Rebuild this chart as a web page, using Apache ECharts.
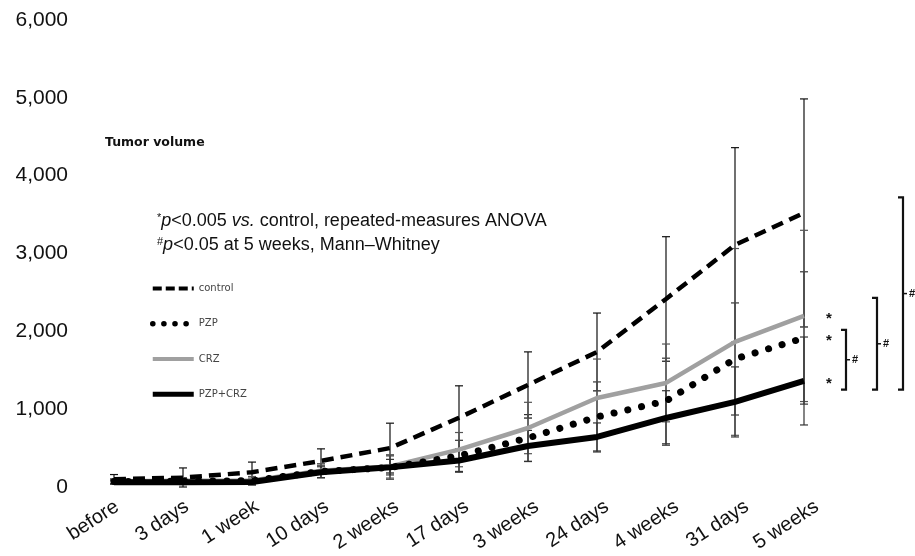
<!DOCTYPE html>
<html><head><meta charset="utf-8">
<script src="https://cdn.jsdelivr.net/npm/echarts@6/dist/echarts.min.js"></script>
<style>html,body{margin:0;padding:0;background:#fff}#c{width:915px;height:556px}</style>
</head><body><div id="c"></div>
<script>
// ---- data ----
const categories = ['before','3 days','1 week','10 days','2 weeks','17 days','3 weeks','24 days','4 weeks','31 days','5 weeks'];
const yTickValues = [0, 1000, 2000, 3000, 4000, 5000, 6000];
const yTickLabels = ['0', '1,000', '2,000', '3,000', '4,000', '5,000', '6,000'];
const seriesNames = ['control', 'PZP', 'CRZ', 'PZP+CRZ'];
const controlMean = [100, 120, 190, 335, 500, 890, 1311, 1735, 2416, 3110, 3521];
const controlSD   = [60, 125, 130, 155, 320, 410, 425, 500, 800, 1250, 1465];
const pzpMean     = [70, 75, 80, 200, 250, 400, 630, 900, 1105, 1645, 1915];
const pzpSD       = [30, 40, 50, 80, 150, 200, 300, 450, 550, 720, 850];
const crzMean     = [75, 80, 85, 210, 265, 480, 758, 1144, 1337, 1864, 2198];
const crzSD       = [30, 40, 50, 90, 150, 220, 330, 500, 500, 1200, 1100];
const comboMean   = [60, 60, 65, 190, 255, 340, 527, 643, 887, 1093, 1362];
const comboSD     = [20, 30, 40, 70, 100, 150, 200, 180, 350, 450, 565];
const bracketRanges = [[1250, 2020], [1250, 2430], [1250, 3720]];
const note1 = '{sup|*}{i|p}<0.005 {i|vs.} control, repeated-measures ANOVA';
const note2 = '{sup|#}{i|p}<0.05 at 5 weeks, Mann\u2013Whitney';
const panelTitle = 'Tumor volume';

// ---- styles ----
const styles = {
  'control': { color: '#000', width: 4.5, type: [12, 7] },
  'PZP': { color: '#000', width: 7, type: [0.1, 14], cap: 'round' },
  'CRZ': { color: '#a0a0a0', width: 4.5, type: 'solid' },
  'PZP+CRZ': { color: '#000', width: 6, type: 'solid' }
};
const legendStyles = {
  'control': { color: '#000', width: 4, type: [9, 4] },
  'PZP': { color: '#000', width: 5.5, type: [0.1, 11], cap: 'round' },
  'CRZ': { color: '#a0a0a0', width: 4, type: 'solid' },
  'PZP+CRZ': { color: '#000', width: 5, type: 'solid' }
};

// ---- chart ----
const chart = echarts.init(document.getElementById('c'));
function errSeries(name, mean, sd, color) {
  return {
    type: 'custom', name: name + ' SD', xAxisIndex: 0, yAxisIndex: 0, silent: true, z: 1,
    data: mean.map((m, i) => [i, Math.max(0, m - sd[i]), m + sd[i]]),
    renderItem(params, api) {
      const lo = api.coord([api.value(0), api.value(1)]);
      const hi = api.coord([api.value(0), api.value(2)]);
      const w = 4;
      const st = { stroke: color, lineWidth: 1.2 };
      return { type: 'group', children: [
        { type: 'line', shape: { x1: lo[0], y1: lo[1], x2: hi[0], y2: hi[1] }, style: st },
        { type: 'line', shape: { x1: lo[0] - w, y1: lo[1], x2: lo[0] + w, y2: lo[1] }, style: st },
        { type: 'line', shape: { x1: hi[0] - w, y1: hi[1], x2: hi[0] + w, y2: hi[1] }, style: st }
      ]};
    }
  };
}
function lineSeries(name, data, z) {
  const ls = styles[name];
  return { type: 'line', name, data, symbol: 'none', showSymbol: false, silent: true, z,
    xAxisIndex: 0, yAxisIndex: 0, lineStyle: ls, itemStyle: { color: ls.color } };
}
const ff = '"Liberation Sans", Arial, sans-serif';
chart.setOption({
  animation: false,
  backgroundColor: '#fff',
  textStyle: { fontFamily: ff },
  grid: [
    { left: 114, right: 111, top: 20, bottom: 69 },
    { left: 117, right: 98, top: 20, bottom: 69 }
  ],
  xAxis: [
    { type: 'category', gridIndex: 0, data: categories, boundaryGap: false,
      axisLine: { show: false }, axisTick: { show: false }, axisLabel: { show: false }, splitLine: { show: false } },
    { type: 'category', gridIndex: 1, data: categories, boundaryGap: false,
      axisLine: { show: false }, axisTick: { show: false }, splitLine: { show: false },
      axisLabel: { interval: 0, rotate: 33, fontSize: 20, margin: 18, color: '#111', fontFamily: ff } }
  ],
  yAxis: [
    { type: 'value', gridIndex: 0, min: 0, max: 6000, interval: 1000,
      axisLine: { show: false }, axisTick: { show: false }, splitLine: { show: false },
      axisLabel: { fontSize: 21, color: '#111', margin: 46, fontFamily: ff,
        formatter: v => yTickLabels[yTickValues.indexOf(v)] } },
    { type: 'value', gridIndex: 1, min: 0, max: 6000, show: false }
  ],
  legend: {
    data: seriesNames.map(n => ({ name: n, lineStyle: legendStyles[n] })),
    orient: 'vertical', left: 150, top: 283, padding: 0,
    itemWidth: 41, itemHeight: 14, itemGap: 24,
    itemStyle: { opacity: 0, borderWidth: 0 },
    textStyle: { fontSize: 10, color: '#444', fontFamily: '"DejaVu Sans", sans-serif' },
    selectedMode: false
  },
  series: [
    errSeries('control', controlMean, controlSD, '#111'),
    errSeries('PZP', pzpMean, pzpSD, '#333'),
    errSeries('CRZ', crzMean, crzSD, '#555'),
    errSeries('PZP+CRZ', comboMean, comboSD, '#333'),
    lineSeries('control', controlMean, 5),
    lineSeries('PZP', pzpMean, 4),
    lineSeries('CRZ', crzMean, 3),
    lineSeries('PZP+CRZ', comboMean, 6)
  ]
});

// ---- annotations placed through the axes ----
const yOf = v => chart.convertToPixel({ yAxisIndex: 0 }, v);
const xOf = i => chart.convertToPixel({ xAxisIndex: 0 }, i);
const xEnd = xOf(categories.length - 1);
const gfx = [];
gfx.push({ type: 'text', left: 105, top: 136, style: { text: panelTitle, font: 'bold 12.5px "DejaVu Sans", sans-serif', fill: '#111' } });
const rich = {
  sup: { fontSize: 11, verticalAlign: 'top', lineHeight: 18, fill: '#111' },
  i: { fontStyle: 'italic', fontSize: 18, fill: '#111' }
};
gfx.push({ type: 'text', left: 157, top: 212, style: { text: note1, fontSize: 18, fontFamily: ff, fill: '#111', rich } });
gfx.push({ type: 'text', left: 157, top: 236, style: { text: note2, fontSize: 18, fontFamily: ff, fill: '#111', rich } });
// significance asterisks
[crzMean, pzpMean, comboMean].forEach(arr => {
  gfx.push({ type: 'text', x: xEnd + 25, y: yOf(arr[arr.length - 1]) + 3,
    style: { text: '*', font: 'bold 15px ' + ff, fill: '#111', align: 'center', verticalAlign: 'middle' } });
});
// brackets
const bx = [42, 73, 99];
bracketRanges.forEach((r, k) => {
  const x = xEnd + bx[k];
  const yT = yOf(r[1]), yB = yOf(r[0]), yM = (yT + yB) / 2;
  gfx.push({ type: 'polyline', shape: { points: [[x - 5, yT], [x, yT], [x, yB], [x - 5, yB]] },
    style: { stroke: '#111', lineWidth: 2.2, fill: null } });
  gfx.push({ type: 'line', shape: { x1: x, y1: yM, x2: x + 4, y2: yM }, style: { stroke: '#111', lineWidth: 1.5 } });
  gfx.push({ type: 'text', x: x + 6, y: yM, style: { text: '#', font: 'bold 11px ' + ff, fill: '#111', verticalAlign: 'middle' } });
});
chart.setOption({ graphic: gfx });
</script></body></html>
